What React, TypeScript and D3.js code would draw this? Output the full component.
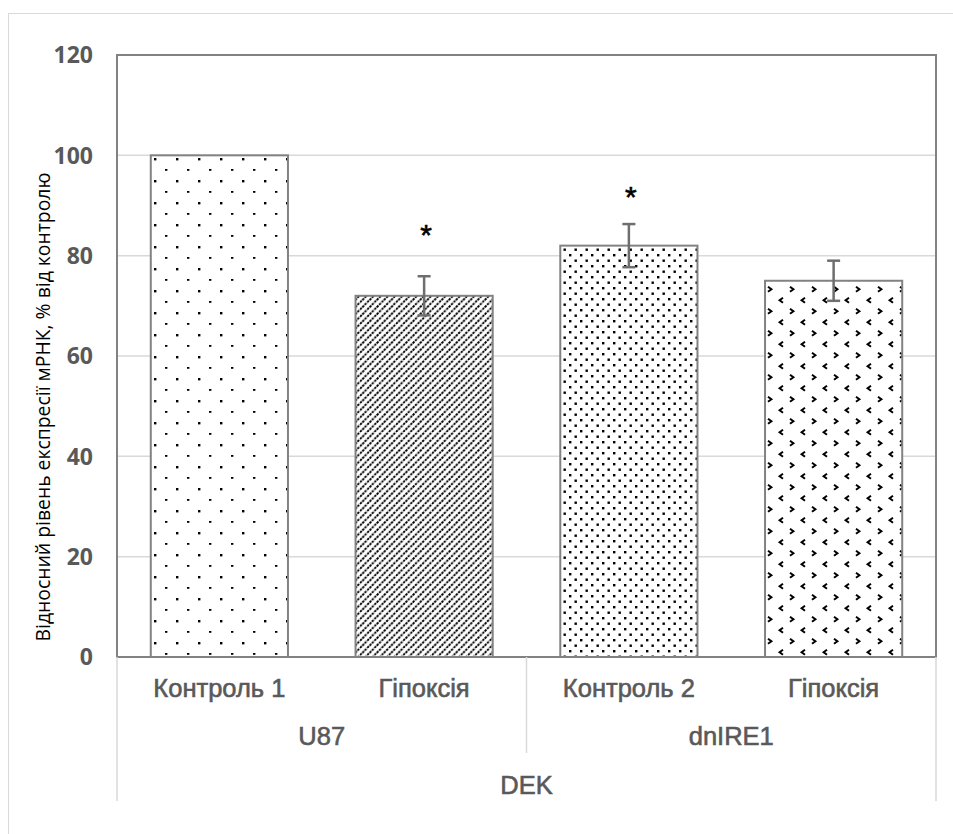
import React, { useEffect } from "react";
import * as d3 from "d3";

const categories = ["Контроль 1", "Гіпоксія", "Контроль 2", "Гіпоксія"];
const groups = ["U87", "dnIRE1"];
const groupOf = [0, 0, 1, 1];
const values = [100, 72, 82, 75];
const errors = [0, 3.9, 4.3, 4];
const starLevels: (number | null)[] = [null, 85.5, 93, null];
const yTicks = [0, 20, 40, 60, 80, 100, 120];
const superLabel = "DEK";
const yTitle = "Відносний рівень експресії мРНК, % від контролю";
const patternIds = ["pDots", "pDiag", "pDense", "pDivot"];

const W = 953;
const H = 834;
const plot = { left: 117, right: 936, top: 55, bottom: 657 };

export default function App() {
  useEffect(() => {
    document.body.style.margin = "0";
    document.body.style.overflow = "hidden";
  }, []);

  const x = d3
    .scaleBand<number>()
    .domain(categories.map((_, i) => i))
    .range([plot.left, plot.right])
    .paddingInner(0.33)
    .paddingOuter(0.165);
  const y = d3.scaleLinear().domain([0, 120]).range([plot.bottom, plot.top]);
  const step = x.step();
  const catCenter = (i: number) => (x(i) as number) + x.bandwidth() / 2;

  const groupStart = (g: number) => {
    const idx = groupOf.map((v, i) => (v === g ? i : -1)).filter((i) => i >= 0);
    return plot.left + idx[0] * step;
  };
  const groupEnd = (g: number) => {
    const idx = groupOf.map((v, i) => (v === g ? i : -1)).filter((i) => i >= 0);
    return plot.left + (idx[idx.length - 1] + 1) * step;
  };

  const axisGray = "#595959";
  const lineGray = "#d9d9d9";
  const frameGray = "#828282";
  const labelFont = "'Liberation Sans', Arial, sans-serif";

  return (
    <svg width={W} height={H} style={{ display: "block", background: "#fff" }}>
      <defs>
        <pattern id="pDots" patternUnits="userSpaceOnUse" width={22} height={22} x={plot.left} y={plot.top}>
          <rect width={22} height={22} fill="#fff" />
          <rect x={4} y={4} width={2.4} height={1.8} fill="#000" />
          <rect x={15} y={15} width={2.4} height={2.4} fill="#000" />
        </pattern>
        <pattern id="pDiag" patternUnits="userSpaceOnUse" width={7.2} height={7.2}>
          <rect width={7.2} height={7.2} fill="#fff" />
          <path d="M-1.8,1.8 L1.8,-1.8 M0,7.2 L7.2,0 M5.4,9 L9,5.4" stroke="#000" strokeWidth={1.9} strokeDasharray="2.4 0.9" />
        </pattern>
        <pattern id="pDense" patternUnits="userSpaceOnUse" width={11} height={11} x={plot.left} y={plot.top}>
          <rect width={11} height={11} fill="#fff" />
          <rect x={1} y={1} width={2.4} height={2.4} fill="#000" />
          <rect x={6.5} y={6.5} width={2.4} height={2.4} fill="#000" />
        </pattern>
        <pattern id="pDivot" patternUnits="userSpaceOnUse" width={22} height={22} x={plot.left} y={plot.top}>
          <rect width={22} height={22} fill="#fff" />
          <path d="M6,0.8 L2.6,3.3 L6,5.8" stroke="#000" strokeWidth={2} fill="none" />
          <path d="M13,11.8 L16.4,14.3 L13,16.8" stroke="#000" strokeWidth={2} fill="none" />
        </pattern>
      </defs>

      {/* outer chart border */}
      <rect x={8.5} y={13.5} width={W + 20} height={H + 20} fill="#fff" stroke={lineGray} strokeWidth={1} />

      {/* gridlines */}
      {yTicks.map((t) => (
        <line key={"g" + t} x1={plot.left} x2={plot.right} y1={y(t)} y2={y(t)} stroke={lineGray} strokeWidth={1.5} />
      ))}

      {/* y tick labels */}
      {yTicks.map((t) => (
        <text
          key={"t" + t}
          x={93}
          y={y(t)}
          dy="0.36em"
          textAnchor="end"
          fontFamily="'Open Sans', sans-serif"
          fontWeight={700}
          fontSize={23}
          fill={axisGray}
        >
          {t}
        </text>
      ))}

      {/* bars */}
      {values.map((v, i) => (
        <rect
          key={"b" + i}
          x={x(i)}
          y={y(v)}
          width={x.bandwidth()}
          height={y(0) - y(v)}
          fill={`url(#${patternIds[i]})`}
          stroke={frameGray}
          strokeWidth={2}
        />
      ))}

      {/* error bars */}
      {values.map((v, i) =>
        errors[i] > 0 ? (
          <g key={"e" + i} stroke="#6e6e6e" strokeWidth={2.5}>
            <line x1={catCenter(i)} x2={catCenter(i)} y1={y(v + errors[i])} y2={y(v - errors[i])} />
            <line x1={catCenter(i) - 6.5} x2={catCenter(i) + 6.5} y1={y(v + errors[i])} y2={y(v + errors[i])} />
            <line x1={catCenter(i) - 6.5} x2={catCenter(i) + 6.5} y1={y(v - errors[i])} y2={y(v - errors[i])} />
          </g>
        ) : null
      )}

      {/* significance stars */}
      {starLevels.map((s, i) =>
        s !== null ? (
          <text
            key={"s" + i}
            x={catCenter(i) + 2}
            y={y(s) + 17}
            textAnchor="middle"
            fontFamily={labelFont}
            fontSize={30}
            stroke="#000"
            strokeWidth={0.6}
            fill="#000"
          >
            *
          </text>
        ) : null
      )}

      {/* plot frame */}
      <rect
        x={plot.left}
        y={plot.top}
        width={plot.right - plot.left}
        height={plot.bottom - plot.top}
        fill="none"
        stroke={frameGray}
        strokeWidth={2}
      />

      {/* multi-level category axis lines */}
      <line x1={plot.left} x2={plot.left} y1={plot.bottom} y2={801} stroke={lineGray} strokeWidth={1.5} />
      <line x1={plot.right} x2={plot.right} y1={plot.bottom} y2={801} stroke={lineGray} strokeWidth={1.5} />
      {groups.slice(1).map((g, gi) => (
        <line
          key={"sep" + g}
          x1={groupStart(gi + 1)}
          x2={groupStart(gi + 1)}
          y1={plot.bottom}
          y2={753}
          stroke={lineGray}
          strokeWidth={1.5}
        />
      ))}

      {/* category labels */}
      <g fontFamily={labelFont} fontSize={25.5} fill={axisGray} stroke={axisGray} strokeWidth={0.6} textAnchor="middle">
        {categories.map((c, i) => (
          <text key={"c" + i} x={catCenter(i)} y={697}>
            {c}
          </text>
        ))}
        {groups.map((g, gi) => (
          <text key={"gl" + g} x={(groupStart(gi) + groupEnd(gi)) / 2} y={745}>
            {g}
          </text>
        ))}
        <text x={(plot.left + plot.right) / 2} y={794}>
          {superLabel}
        </text>
      </g>

      {/* y axis title */}
      <text
        transform="translate(50,407) rotate(-90)"
        textAnchor="middle"
        fontFamily="'Open Sans', sans-serif"
        fontSize={20}
        fill="#000"
        textLength={469}
        lengthAdjust="spacingAndGlyphs"
      >
        {yTitle}
      </text>
    </svg>
  );
}
